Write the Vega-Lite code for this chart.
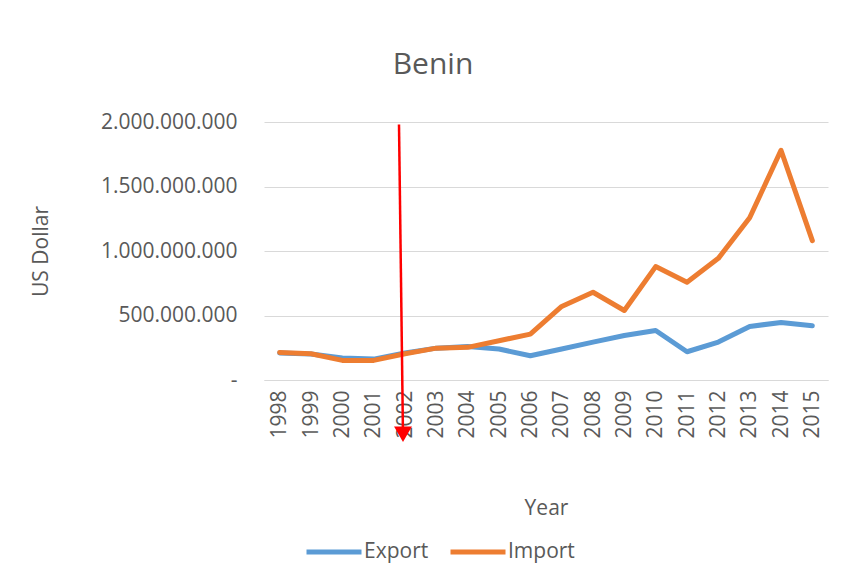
{
  "$schema": "https://vega.github.io/schema/vega-lite/v6.json",
  "autosize": "none",
  "width": 564,
  "height": 258,
  "padding": {"left": 264, "right": 17, "top": 122, "bottom": 208},
  "background": "white",
  "config": {
    "font": "Open Sans",
    "locale": {"number": {"decimal": ",", "thousands": ".", "grouping": [3], "currency": ["", ""]}},
    "view": {"stroke": null},
    "axis": {"labelColor": "#595959", "titleColor": "#595959", "labelFont": "Open Sans", "titleFont": "Open Sans", "labelFontSize": 21, "titleFontSize": 21, "titleFontWeight": "normal", "ticks": false, "gridColor": "#d9d9d9", "gridWidth": 1.2, "domainColor": "#d9d9d9", "domainWidth": 1.2},
    "legend": {"labelColor": "#595959", "labelFont": "Open Sans", "labelFontSize": 21}
  },
  "title": {"text": "Benin", "fontSize": 30, "font": "Open Sans", "fontWeight": "normal", "color": "#595959", "anchor": "middle", "dx": -113, "offset": 31},
  "layer": [
    {
      "data": {"values": [
        {"year": "1998", "series": "Export", "value": 209000000},
        {"year": "1999", "series": "Export", "value": 201000000},
        {"year": "2000", "series": "Export", "value": 170000000},
        {"year": "2001", "series": "Export", "value": 162000000},
        {"year": "2002", "series": "Export", "value": 209000000},
        {"year": "2003", "series": "Export", "value": 247000000},
        {"year": "2004", "series": "Export", "value": 260000000},
        {"year": "2005", "series": "Export", "value": 240000000},
        {"year": "2006", "series": "Export", "value": 188000000},
        {"year": "2007", "series": "Export", "value": 240000000},
        {"year": "2008", "series": "Export", "value": 294000000},
        {"year": "2009", "series": "Export", "value": 345000000},
        {"year": "2010", "series": "Export", "value": 384000000},
        {"year": "2011", "series": "Export", "value": 219000000},
        {"year": "2012", "series": "Export", "value": 294000000},
        {"year": "2013", "series": "Export", "value": 415000000},
        {"year": "2014", "series": "Export", "value": 446000000},
        {"year": "2015", "series": "Export", "value": 420000000},
        {"year": "1998", "series": "Import", "value": 214000000},
        {"year": "1999", "series": "Import", "value": 204000000},
        {"year": "2000", "series": "Import", "value": 152000000},
        {"year": "2001", "series": "Import", "value": 152000000},
        {"year": "2002", "series": "Import", "value": 204000000},
        {"year": "2003", "series": "Import", "value": 247000000},
        {"year": "2004", "series": "Import", "value": 253000000},
        {"year": "2005", "series": "Import", "value": 304000000},
        {"year": "2006", "series": "Import", "value": 356000000},
        {"year": "2007", "series": "Import", "value": 570000000},
        {"year": "2008", "series": "Import", "value": 680000000},
        {"year": "2009", "series": "Import", "value": 539000000},
        {"year": "2010", "series": "Import", "value": 879000000},
        {"year": "2011", "series": "Import", "value": 758000000},
        {"year": "2012", "series": "Import", "value": 943000000},
        {"year": "2013", "series": "Import", "value": 1258000000},
        {"year": "2014", "series": "Import", "value": 1781000000},
        {"year": "2015", "series": "Import", "value": 1080000000}
      ]},
      "mark": {"type": "line", "strokeWidth": 5, "strokeCap": "round", "strokeJoin": "round"},
      "encoding": {
        "x": {"field": "year", "type": "ordinal", "scale": {"type": "point", "padding": 0.5},
              "axis": {"title": "Year", "labelAngle": -90, "labelPadding": 10, "titlePadding": 59, "grid": false}},
        "y": {"field": "value", "type": "quantitative", "scale": {"domain": [0, 2000000000], "nice": false, "zero": true},
              "axis": {"title": "US Dollar", "values": [0, 500000000, 1000000000, 1500000000, 2000000000], "format": ",.0f",
                       "labelExpr": "datum.value === 0 ? '-  ' : datum.label", "labelPadding": 27, "titlePadding": 49, "domain": false}},
        "color": {"field": "series", "type": "nominal",
                  "scale": {"domain": ["Export", "Import"], "range": ["#5b9bd5", "#ed7d31"]},
                  "legend": {"title": null, "orient": "none", "direction": "horizontal", "legendX": 40, "legendY": 400,
                             "symbolType": "stroke", "symbolSize": 3025, "symbolStrokeWidth": 5, "labelOffset": 0, "columnPadding": 11}}
      }
    },
    {
      "data": {"values": [{"year": "2002", "top": 1980000000, "bottom": -430000000}]},
      "mark": {"type": "rule", "color": "#ff0000", "strokeWidth": 2.5, "xOffset": -6, "x2Offset": -2},
      "encoding": {
        "x": {"field": "year", "type": "ordinal"},
        "x2": {"field": "year"},
        "y": {"field": "top", "type": "quantitative"},
        "y2": {"field": "bottom"}
      }
    },
    {
      "data": {"values": [{"year": "2002", "head": -420000000}]},
      "mark": {"type": "point", "shape": "triangle-down", "filled": true, "color": "#ff0000", "size": 320, "opacity": 1, "xOffset": -2},
      "encoding": {
        "x": {"field": "year", "type": "ordinal"},
        "y": {"field": "head", "type": "quantitative"}
      }
    }
  ]
}
